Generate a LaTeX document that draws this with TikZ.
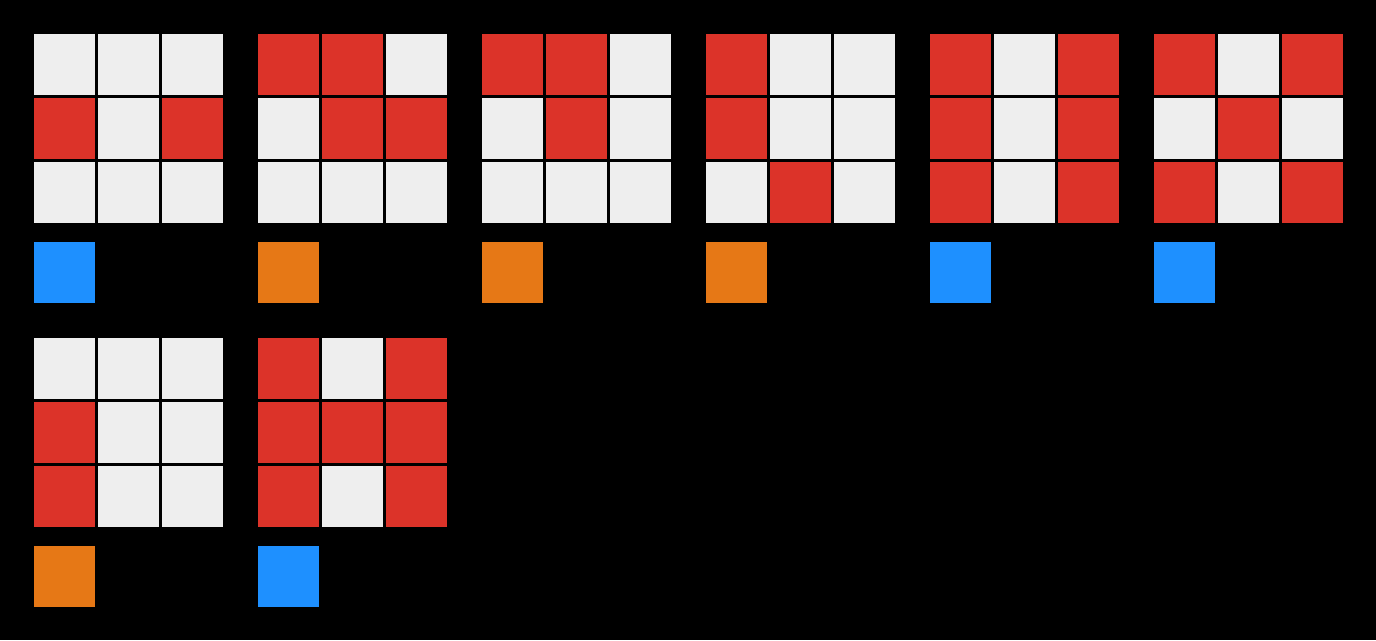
\documentclass[tikz,border=0pt]{standalone}
\usetikzlibrary{positioning}
\definecolor{cw}{HTML}{EEEEEE}
\definecolor{cr}{HTML}{DC3329}
\definecolor{cb}{HTML}{1E90FF}
\definecolor{co}{HTML}{E67816}
\tikzset{
  cell/.style={draw=none,inner sep=0pt,outer sep=0pt,minimum size=61pt,anchor=north west},
  W/.style={cell,fill=cw},
  R/.style={cell,fill=cr},
  B/.style={cell,fill=cb},
  O/.style={cell,fill=co}
}
\begin{document}
\begin{tikzpicture}[x=1pt,y=-1pt]
\fill[black] (0,0) rectangle (1376,640);
\useasboundingbox (0,0) rectangle (1376,640);
% puzzle list: id / x / y / nine cells / label colour
\foreach \p/\ox/\oy/\cells/\lab in {
  1/34/34/{W,W,W,R,W,R,W,W,W}/B,
  2/258/34/{R,R,W,W,R,R,W,W,W}/O,
  3/482/34/{R,R,W,W,R,W,W,W,W}/O,
  4/706/34/{R,W,W,R,W,W,W,R,W}/O,
  5/930/34/{R,W,R,R,W,R,R,W,R}/B,
  6/1154/34/{R,W,R,W,R,W,R,W,R}/B,
  7/34/338/{W,W,W,R,W,W,R,W,W}/O,
  8/258/338/{R,W,R,R,R,R,R,W,R}/B}{
  \foreach \c [count=\i from 0] in \cells {
    \pgfmathtruncatemacro{\col}{mod(\i,3)}
    \pgfmathtruncatemacro{\row}{div(\i,3)}
    \node[\c] (p\p c\i) at ({\ox+64*\col},{\oy+64*\row}) {};
  }
  \node[\lab] (p\p lab) at (\ox,{\oy+208}) {};
}
\end{tikzpicture}
\end{document}
